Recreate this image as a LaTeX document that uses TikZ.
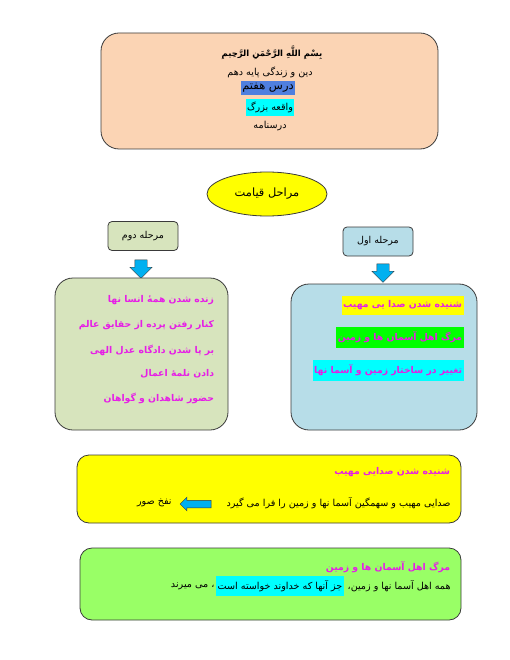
\documentclass[tikz,border=0pt]{standalone}
\usepackage{fontspec}
\newfontfamily\arabicfont[Script=Arabic]{DejaVu Sans}
\TeXXeTstate=1
\usetikzlibrary{positioning, shapes.geometric, shapes.arrows}
\definecolor{cpeach}{HTML}{FBD4B4}
\definecolor{colive}{HTML}{D7E4BD}
\definecolor{csky}{HTML}{B7DDE8}
\definecolor{cyellow}{HTML}{FFFF00}
\definecolor{clime}{HTML}{99FF66}
\definecolor{cgreen}{HTML}{00FF00}
\definecolor{ccyan}{HTML}{00FFFF}
\definecolor{croyal}{HTML}{4F7FDF}
\definecolor{cmagenta}{HTML}{E61EE6}
\definecolor{carrow}{HTML}{00B0F0}
\definecolor{cdark}{HTML}{3A3A3A}
\tikzset{
  every picture/.style={line width=0.8pt},
  panel/.style={draw=cdark, fill=#1, rounded corners=18pt},
  stagebox/.style={draw=cdark, fill=#1, rounded corners=4pt, minimum width=70pt, minimum height=29pt, font=\arabicfont\fontsize{9.5}{11}\selectfont},
  fatext/.style={font=\arabicfont\fontsize{9.6}{11}\selectfont, inner sep=1pt},
  itemtext/.style={font=\arabicfont\bfseries\fontsize{9.3}{11}\selectfont, text=cmagenta, inner sep=1.5pt},
  hilite/.style={fill=#1, inner xsep=1.5pt, inner ysep=4pt},
  downarrow/.style={single arrow, shape border rotate=270, draw=cdark, line width=0.4pt, fill=carrow, minimum height=16pt, single arrow head extend=5pt, inner sep=6pt},
}
\begin{document}
\begin{tikzpicture}[x=1pt, y=-1pt]
  \useasboundingbox (0,0) rectangle (510,660);
  % heading
  \node[panel=cpeach, minimum width=337pt, minimum height=116pt] (head) at (269.5,91) {};
  \node[fatext, font=\arabicfont\bfseries\fontsize{8.5}{10}\selectfont] (bism) at (272,53) {\beginR بِسْمِ اللَّهِ الرَّحْمَنِ الرَّحِيمِ\endR};
  \node[fatext] (course) at (270,72) {\beginR دین و زندگی پایه دهم\endR};
  \node[fatext, hilite=croyal, inner ysep=2.5pt, font=\arabicfont\fontsize{11.5}{13}\selectfont] (lesson) at (268,88) {\beginR درس هفتم\endR};
  \node[fatext, hilite=ccyan, inner ysep=3pt] (topic) at (270,107.5) {\beginR واقعه بزرگ\endR};
  \node[fatext] (notes) at (270,126) {\beginR درسنامه\endR};
  % title
  \node[ellipse, draw=cdark, fill=cyellow, minimum width=120pt, minimum height=44pt, font=\arabicfont\fontsize{11.4}{13}\selectfont] (stages) at (267,194) {\beginR مراحل قیامت\endR};
  % stages
  \node[stagebox=colive] (second) at (143,236) {\beginR مرحله دوم\endR};
  \node[stagebox=csky] (first) at (378,241.5) {\beginR مرحله اول\endR};
  \node[downarrow] (down2) at (141,266) {};
  \node[downarrow] (down1) at (383,270) {};
  \node[panel=colive, minimum width=173pt, minimum height=152pt] (secondbox) at (141.5,354) {};
  \node[panel=csky, minimum width=186pt, minimum height=146pt] (firstbox) at (384,357) {};
  % second stage items
  \node[itemtext, anchor=east] (s1) at (216,300) {\beginR زنده شدن همهٔ انسا نها\endR};
  \node[itemtext, anchor=east] (s2) at (216,325) {\beginR کنار رفتن پرده از حقایق عالم\endR};
  \node[itemtext, anchor=east] (s3) at (216,350) {\beginR بر پا شدن دادگاه عدل الهی\endR};
  \node[itemtext, anchor=east] (s4) at (216,374) {\beginR دادن نلمهٔ اعمال\endR};
  \node[itemtext, anchor=east] (s5) at (216,398) {\beginR حضور شاهدان و گواهان\endR};
  % first stage items
  \node[itemtext, hilite=cyellow, inner ysep=5pt, anchor=east] (f1) at (464,305.5) {\beginR شنیده شدن صدا یی مهیب\endR};
  \node[itemtext, hilite=cgreen, inner ysep=5pt, anchor=east] (f2) at (464,337.5) {\beginR مرگ اهل آسمان ها و زمین\endR};
  \node[itemtext, hilite=ccyan, inner ysep=5pt, anchor=east] (f3) at (464,370.5) {\beginR تغییر در ساختار زمین و آسما نها\endR};
  % sound
  \node[panel=cyellow, minimum width=384pt, minimum height=68pt, rounded corners=12pt] (soundbox) at (269,489) {};
  \node[itemtext, anchor=east] (soundtitle) at (452,472) {\beginR شنیده شدن صدایی مهیب\endR};
  \node[fatext, anchor=east] (soundtext) at (452,503) {\beginR صدایی مهیب و سهمگین آسما نها و زمین را فرا می گیرد\endR};
  \node[single arrow, shape border rotate=180, draw=cdark, line width=0.5pt, fill=carrow, minimum height=31pt, single arrow head extend=3pt, inner sep=3.5pt] (blow) at (197.5,504) {};
  \node[fatext, anchor=east] (trumpet) at (173,503) {\beginR نفخ صور\endR};
  % death
  \node[panel=clime, minimum width=381pt, minimum height=72pt, rounded corners=12pt] (deathbox) at (270.5,584) {};
  \node[itemtext, anchor=east] (deathtitle) at (452,567) {\beginR مرگ اهل آسمان ها و زمین\endR};
  \node[fatext, anchor=east] (death1) at (452,586) {\beginR همه اهل آسما نها و زمین،\endR};
  \node[fatext, hilite=ccyan, left=2pt of death1] (death2) {\beginR جز آنها که خداوند خواسته است\endR};
  \node[fatext, left=0pt of death2] (death3) {\beginR ، می میرند\endR};
\end{tikzpicture}
\end{document}
